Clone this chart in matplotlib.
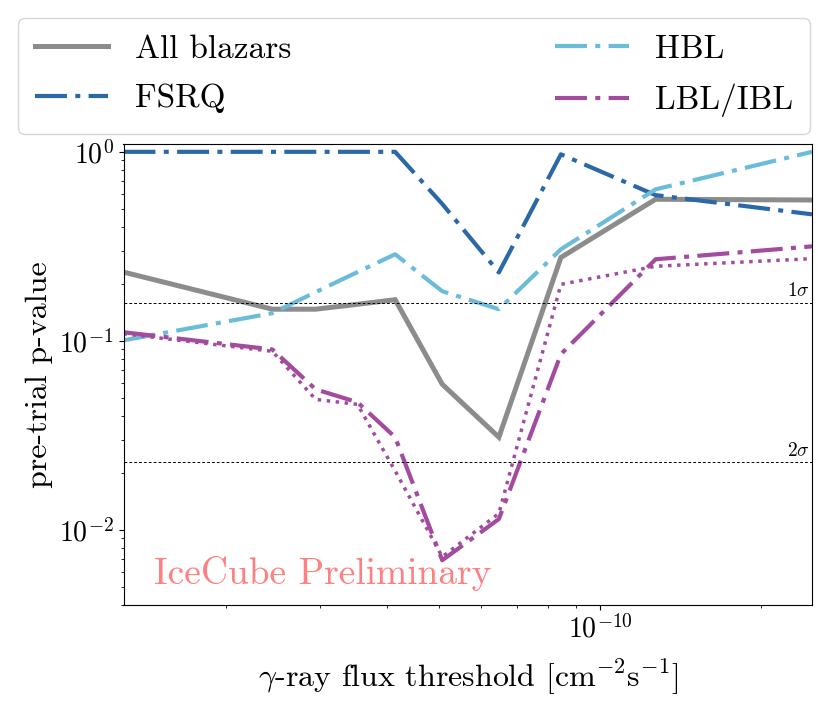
import matplotlib
matplotlib.use("Agg")
import matplotlib.pyplot as plt
from matplotlib.ticker import NullFormatter, FixedLocator

plt.rcParams['font.family'] = 'serif'
plt.rcParams['font.serif'] = ['cmr10', 'DejaVu Serif']
plt.rcParams['mathtext.fontset'] = 'cm'
plt.rcParams['axes.formatter.use_mathtext'] = True
plt.rcParams['axes.unicode_minus'] = False
plt.rcParams['lines.scale_dashes'] = False

# gamma-ray flux thresholds [cm^-2 s^-1]
flux = [1.286e-11, 2.44e-11, 2.94e-11, 3.52e-11, 4.14e-11, 5.07e-11,
        6.47e-11, 8.45e-11, 1.27e-10, 2.49e-10]
all_blazars = [0.231, 0.147, 0.147, 0.156, 0.165, 0.0589, 0.0309, 0.276, 0.561, 0.556]
fsrq = [1.0, 1.0, 1.0, 1.0, 1.0, 0.53, 0.23, 0.97, 0.59, 0.467]
hbl = [0.1006, 0.140, 0.181, 0.231, 0.287, 0.183, 0.147, 0.305, 0.633, 1.0]
lbl_ibl = [0.111, 0.090, 0.0554, 0.0473, 0.0309, 0.0069, 0.0114, 0.085, 0.270, 0.316]
lbl_ibl_alt = [0.109, 0.088, 0.049, 0.0461, 0.0205, 0.0072, 0.0122, 0.199, 0.248, 0.272]

sigma_levels = [0.1587, 0.02275]
sigma_labels = [r'$1\sigma$', r'$2\sigma$']
x_major_ticks = [1e-10]
y_major_ticks = [1e-2, 1e-1, 1e0]

fig = plt.figure(figsize=(8.3, 7.04), dpi=100)
ax = fig.add_axes([123.5/830, 1-605/704, (812-123.5)/830, (605-144)/704])

dd = (0, (23, 6, 3.6, 6))
l1, = ax.plot(flux, all_blazars, color='#8c8c8c', lw=3.6, solid_joinstyle='miter', label='All blazars')
l2, = ax.plot(flux, fsrq, color='#2b69a6', lw=3.0, linestyle=dd, label='FSRQ')
l3, = ax.plot(flux, hbl, color='#6bbcd8', lw=3.0, linestyle=dd, label='HBL')
l4, = ax.plot(flux, lbl_ibl, color='#a34b9f', lw=3.0, linestyle=dd, label='LBL/IBL')
ax.plot(flux, lbl_ibl_alt, color='#a34b9f', lw=2.5, linestyle=(0, (2.5, 4.0)))

for lev, lab in zip(sigma_levels, sigma_labels):
    ax.axhline(lev, color='black', lw=0.7, linestyle=(0, (2, 1.5)))
    ax.text(0.997, lev * 1.03, lab, transform=ax.get_yaxis_transform(),
            ha='right', va='bottom', fontsize=14)

ax.text(0.044, 0.03, 'IceCube Preliminary', transform=ax.transAxes,
        color='#ff8080', fontsize=27, ha='left', va='bottom')

ax.set_xscale('log')
ax.set_yscale('log')
ax.set_xlim(flux[0], flux[-1])
ax.set_ylim(4e-3, 1.1)
ax.xaxis.set_major_locator(FixedLocator(x_major_ticks))
ax.yaxis.set_major_locator(FixedLocator(y_major_ticks))
ax.xaxis.set_minor_formatter(NullFormatter())
ax.yaxis.set_minor_formatter(NullFormatter())
ax.set_xlabel(r'$\gamma$-ray flux threshold [cm$^{-2}$s$^{-1}$]', fontsize=23, labelpad=10)
ax.set_ylabel('pre-trial p-value', fontsize=23)
ax.tick_params(which='major', labelsize=20)

fig.legend(handles=[l1, l2, l3, l4], ncol=2, fontsize=24,
           loc='lower left', mode='expand',
           bbox_to_anchor=(18/830, 1-134/704, (810-18)/830, 116/704),
           borderaxespad=0, handlelength=2.2, labelspacing=0.6,
           borderpad=0.5, frameon=True, fancybox=True)

fig.savefig('out.png', dpi=100)
